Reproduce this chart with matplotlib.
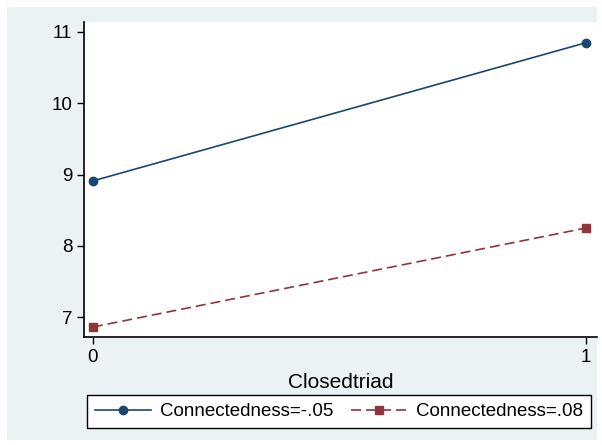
import matplotlib
matplotlib.use("Agg")
import matplotlib.pyplot as plt
from matplotlib.patches import Rectangle

plt.rcParams["font.family"] = ["Liberation Sans", "DejaVu Sans"]

x = [0, 1]
conn_low = [8.91, 10.85]
conn_high = [6.86, 8.25]
labels = ["Connectedness=-.05", "Connectedness=.08"]

bg = "#eaf2f3"
fig = plt.figure(figsize=(6.02, 4.45), dpi=100)
fig.patch.set_facecolor("white")
fig.patches.append(Rectangle((7 / 602, 5 / 445), 590 / 602, 433 / 445,
                             transform=fig.transFigure, facecolor=bg,
                             edgecolor="none", zorder=-10))

ax = fig.add_axes([84 / 602, 108 / 445, 513 / 602, 315 / 445])
ax.set_facecolor("white")

ax.plot(x, conn_low, color="#1a476f", marker="o", markersize=6, lw=1.2,
        label=labels[0])
ax.plot(x, conn_high, color="#90353b", marker="s", markersize=6, lw=1.2,
        linestyle=(0, (6, 3)), label=labels[1])

ax.set_xlim(-0.018, 1.022)
ax.set_ylim(6.72, 11.14)
ax.set_xticks([0, 1])
ax.set_yticks([7, 8, 9, 10, 11])
ax.tick_params(labelsize=13.5, length=5, width=1, colors="black")
for s in ["top", "right"]:
    ax.spines[s].set_visible(False)
for s in ["left", "bottom"]:
    ax.spines[s].set_linewidth(1.2)

ax.set_xlabel("Closedtriad", fontsize=15, labelpad=5)

leg = fig.legend(loc="center", bbox_to_anchor=(339 / 602, 1 - 411.5 / 445),
                 ncol=2, fontsize=13.5, frameon=True, fancybox=False,
                 edgecolor="black", facecolor="white", framealpha=1,
                 handlelength=3.0, handletextpad=0.5, columnspacing=0.9,
                 borderpad=0.4)
leg.get_frame().set_linewidth(1.0)

fig.savefig("out.png", dpi=100, facecolor=fig.get_facecolor())
